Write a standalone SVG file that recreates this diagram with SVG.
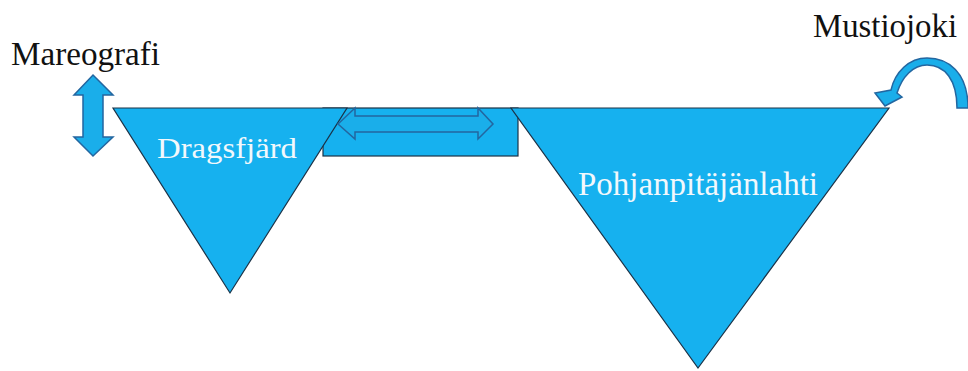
<svg xmlns="http://www.w3.org/2000/svg" width="968" height="371" viewBox="0 0 968 371">
<style>
.basin{fill:#16b1ef;stroke:#1b3247;stroke-width:1.2}
.arrow{fill:#1aaeea;stroke:#2366a0;stroke-width:1.5;stroke-linejoin:miter}
</style>
<rect width="968" height="371" fill="#ffffff"/>
<g id="channel">
<rect class="basin" x="323" y="108" width="195" height="48"/>
</g>
<g id="dragsfjard">
<polygon class="basin" points="113,108 347,108 230,293"/>
<text font-family="Liberation Serif, Times New Roman, serif" fill="#f2f8fc" x="157" y="158" font-size="30" textLength="140" lengthAdjust="spacingAndGlyphs">Dragsfjärd</text>
</g>
<g id="pohjanpitajanlahti">
<polygon class="basin" points="511,108 889,108 698,368"/>
<text font-family="Liberation Serif, Times New Roman, serif" fill="#f2f8fc" x="578" y="195" font-size="33" textLength="240" lengthAdjust="spacingAndGlyphs">Pohjanpitäjänlahti</text>
</g>
<g id="mareografi">
<text font-family="Liberation Serif, Times New Roman, serif" fill="#111111" font-size="33" x="11" y="65" textLength="149" lengthAdjust="spacingAndGlyphs">Mareografi</text>
</g>
<g id="mustiojoki">
<text font-family="Liberation Serif, Times New Roman, serif" fill="#111111" font-size="33" x="813" y="37" textLength="144" lengthAdjust="spacingAndGlyphs">Mustiojoki</text>
</g>
<g id="connectors">
<path class="arrow" d="M93,75 L113,95 L103,95 L103,137 L113,137 L93,156 L74,137 L83,137 L83,95 L74,95 Z"/>
<path class="arrow" d="M338,124 L355,108 L355,116 L478,116 L478,108 L493,124 L478,139 L478,132 L355,132 L355,139 Z"/>
<path class="arrow" d="M968,108 C968,72 948,58 927,58 C909,58 895,72 891,90 L875,93 L885,106 L902,97 L897,93 C902,77 913,65 927,65 C945,65 957,80 957,108 Z"/>
</g>
</svg>
